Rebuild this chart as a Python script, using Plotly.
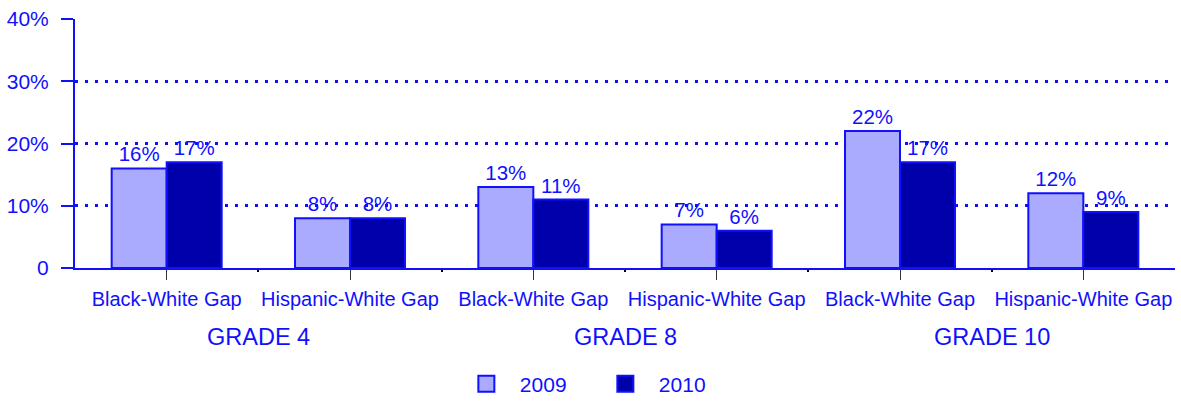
import plotly.graph_objects as go

categories = ["Black-White Gap", "Hispanic-White Gap", "Black-White Gap",
              "Hispanic-White Gap", "Black-White Gap", "Hispanic-White Gap"]
groups = ["GRADE 4", "GRADE 8", "GRADE 10"]
values_2009 = [16, 8, 13, 7, 22, 12]
values_2010 = [17, 8, 11, 6, 17, 9]
y_tickvals = [0, 10, 20, 30, 40]
y_ticktext = ["0", "10%", "20%", "30%", "40%"]

BLUE = "#1010ff"
FILL_2009 = "#aaaaff"
FILL_2010 = "#0000aa"
FONT = "Liberation Sans, Arial, sans-serif"
x = list(range(len(categories)))

fig = go.Figure()
for name, vals, fill in [("2009", values_2009, FILL_2009), ("2010", values_2010, FILL_2010)]:
    fig.add_trace(go.Bar(
        x=x, y=vals, name=name, legendgroup=name, showlegend=False,
        marker=dict(color=fill, line=dict(color=BLUE, width=2)),
        text=[f"{v}%" for v in vals], textposition="outside",
        textfont=dict(color=BLUE, size=20.5, family=FONT), cliponaxis=False,
    ))
# legend-only entries (larger square swatches)
for name, fill in [("2009", FILL_2009), ("2010", FILL_2010)]:
    fig.add_trace(go.Scatter(
        x=[None], y=[None], mode="markers", name=name, legendgroup=name,
        marker=dict(symbol="square", size=16, color=fill, line=dict(color=BLUE, width=2)),
    ))

for i, g in enumerate(groups):
    fig.add_annotation(x=2 * i + 0.5, xref="x", y=0, yref="paper",
                       yshift=-69, text=g, showarrow=False,
                       font=dict(color=BLUE, size=23.5, family=FONT),
                       yanchor="middle")

fig.update_layout(
    width=1181, height=402,
    margin=dict(l=75, r=6, t=19, b=134, autoexpand=False),
    paper_bgcolor="white", plot_bgcolor="white",
    barmode="group", bargap=0.4, bargroupgap=0,
    font=dict(family=FONT, color=BLUE, size=20),
    showlegend=True,
    legend=dict(orientation="h", x=0.3435, xanchor="left", y=-0.466, yanchor="middle",
                font=dict(size=21, color=BLUE, family=FONT),
                itemwidth=57, entrywidth=67, entrywidthmode="pixels",
                traceorder="normal", itemsizing="trace"),
    xaxis=dict(
        range=[-0.5, len(categories) - 0.5],
        tickvals=x, ticktext=categories,
        ticks="outside", ticklen=10, tickcolor="#333333", tickwidth=1,
        tickfont=dict(size=20, color=BLUE, family=FONT),
        ticklabelstandoff=2, automargin=False,
        showline=True, linecolor=BLUE, linewidth=2,
        showgrid=False, zeroline=False,
        minor=dict(tickvals=[i + 0.5 for i in x[:-1]], ticks="outside",
                   ticklen=2, tickcolor="black", tickwidth=2, showgrid=False),
    ),
    yaxis=dict(
        range=[0, 40], tickvals=y_tickvals, ticktext=y_ticktext,
        ticks="outside", ticklen=12, tickcolor=BLUE, tickwidth=2,
        tickfont=dict(size=21, color=BLUE, family=FONT),
        ticklabelstandoff=8, automargin=False,
        showline=True, linecolor=BLUE, linewidth=2,
        showgrid=True, gridcolor=BLUE, gridwidth=2.5, griddash="3px,7px",
        zeroline=False,
    ),
)

fig.write_html("out.html", config={"displayModeBar": False},
               post_script="document.body.style.margin='0';")
